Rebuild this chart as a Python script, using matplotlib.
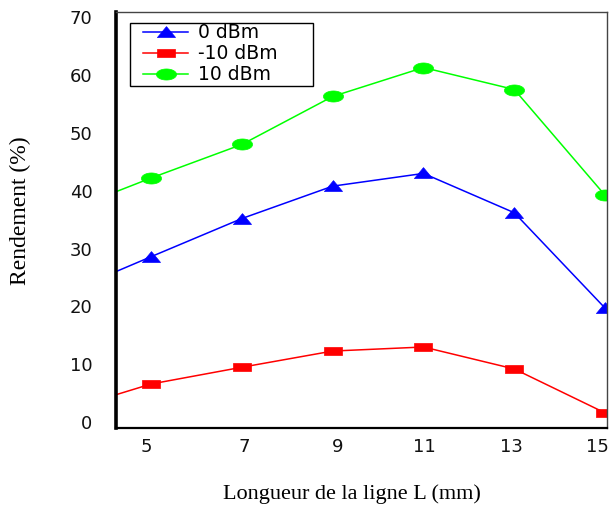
import numpy as np
import matplotlib
matplotlib.use("Agg")
import matplotlib.pyplot as plt
from matplotlib.patches import Rectangle
from matplotlib.transforms import ScaledTranslation

# ---- data ----
x_vals = [4.25, 5, 7, 9, 11, 13, 15]
y_0dbm = [26.1, 28.6, 35.2, 40.8, 43.0, 36.2, 19.7]
y_m10dbm = [4.8, 6.6, 9.5, 12.3, 13.0, 9.2, 1.6]
y_10dbm = [39.9, 42.2, 48.0, 56.3, 61.3, 57.5, 39.2]
labels = ["0 dBm", "-10 dBm", "10 dBm"]
x_ticks = [5, 7, 9, 11, 13, 15]
y_ticks = [0, 10, 20, 30, 40, 50, 60, 70]

W, H = 609, 523
fig = plt.figure(figsize=(W / 100, H / 100), dpi=100)
fig.patch.set_facecolor("white")
L, R, T, B = 116, 607, 12, 428
ax = fig.add_axes([L / W, 1 - B / H, (R - L) / W, (B - T) / H])

# custom markers (wide shapes like the reference)
tri = [(-1, -0.55), (1, -0.55), (0, 0.65), (-1, -0.55)]
rect = [(-1, -0.45), (1, -0.45), (1, 0.45), (-1, 0.45), (-1, -0.45)]
th = np.linspace(0, 2 * np.pi, 40)
ell = list(zip(np.cos(th), 0.55 * np.sin(th)))

series = [
    (y_0dbm, "#0000ff", tri, 13),
    (y_m10dbm, "#ff0000", rect, 13),
    (y_10dbm, "#00ff00", ell, 14.5),
]
for (ys, c, mk, ms), lab in zip(series, labels):
    ax.plot(x_vals, ys, color=c, lw=1.1, marker=mk, ms=ms, mfc=c, mec=c,
            mew=0.5, markevery=slice(1, None), label=lab)

ax.set_xlim(4.23, 15.04)
ax.set_ylim(-1.0, 70.9)
ax.set_xticks(x_ticks)
ax.set_yticks(y_ticks)
ax.tick_params(axis="both", length=0, labelsize=13, colors="#111111")
ax.tick_params(axis="x", pad=7)
ax.tick_params(axis="y", pad=17)

# small horizontal shifts of the x tick labels, as in the reference
shifts_px = [-5, 2, 5, 1, -3, -8]
for lbl, dx in zip(ax.get_xticklabels(), shifts_px):
    lbl.set_transform(lbl.get_transform() + ScaledTranslation(dx / 100, 0, fig.dpi_scale_trans))

ax.spines["left"].set_linewidth(2.6)
ax.spines["left"].set_color("black")
ax.spines["bottom"].set_linewidth(1.6)
ax.spines["bottom"].set_color("black")
for s in ("top", "right"):
    ax.spines[s].set_linewidth(1.0)
    ax.spines[s].set_color("#444444")

# legend frame drawn separately
def ax_x(px):
    return (px - L) / (R - L)

def ax_y(py):
    return (B - py) / (B - T)

ax.add_patch(Rectangle((ax_x(130), ax_y(86)), ax_x(313) - ax_x(130), ax_y(23) - ax_y(86),
                       transform=ax.transAxes, facecolor="white", edgecolor="black",
                       lw=1.0, zorder=4))
leg = ax.legend(loc="upper left", bbox_to_anchor=(ax_x(143), ax_y(23.5)),
                borderaxespad=0, fontsize=13.5, handlelength=2.4, handletextpad=0.55,
                labelspacing=0.1, borderpad=0, frameon=False)
leg.set_zorder(5)

fig.text(20 / W, 1 - 211 / H, "Rendement (%)", rotation=90, ha="center", va="center",
         fontsize=17, family="Liberation Serif")
fig.text(352 / W, 1 - 494 / H, "Longueur de la ligne L (mm)", ha="center", va="center",
         fontsize=16, family="Liberation Serif")

fig.savefig("out.png", dpi=100, facecolor="white")
